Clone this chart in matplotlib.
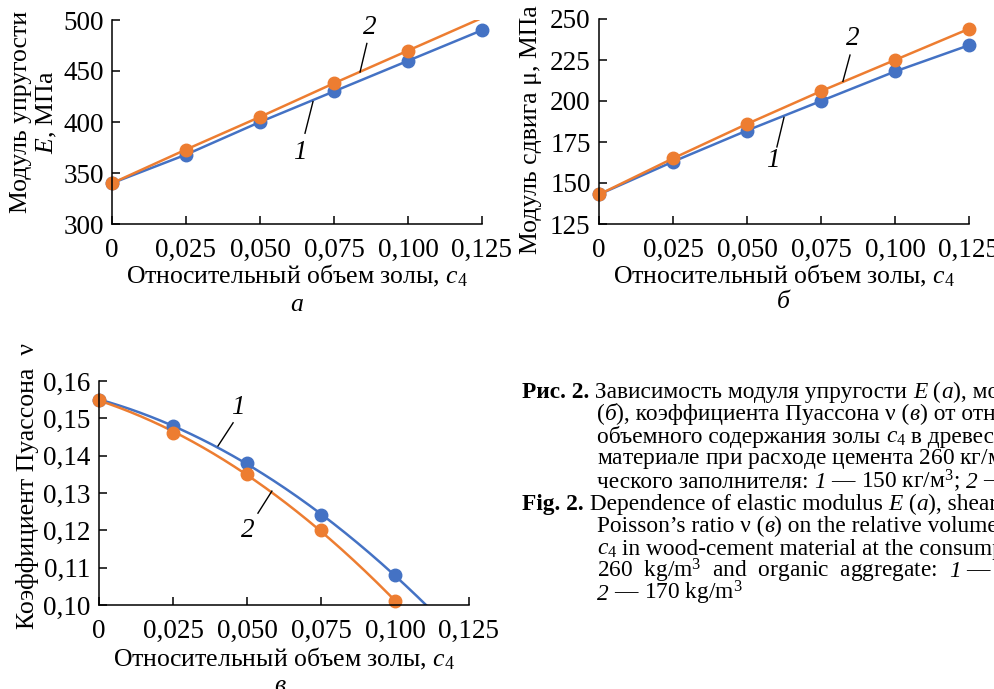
import numpy as np
import matplotlib
matplotlib.use("Agg")
import matplotlib.pyplot as plt

plt.rcParams['font.family'] = ['Liberation Serif', 'DejaVu Serif']
plt.rcParams['mathtext.fontset'] = 'custom'
plt.rcParams['mathtext.rm'] = 'Liberation Serif'
plt.rcParams['mathtext.it'] = 'Liberation Serif:italic'
plt.rcParams['mathtext.bf'] = 'Liberation Serif:bold'

# ash relative volume c4
c4 = [0, 0.025, 0.050, 0.075, 0.100, 0.125]
x_ticks = [0, 0.025, 0.050, 0.075, 0.100, 0.125]
x_tick_labels = ['0', '0,025', '0,050', '0,075', '0,100', '0,125']

# (а) elastic modulus E, MPa
E_1 = [340, 368, 400, 430, 460, 490]
E_2 = [340, 373, 405, 438, 470, 502]   # last point has no marker, runs off the top
E_ticks = [300, 350, 400, 450, 500]

# (б) shear modulus mu, MPa
mu_1 = [143, 163, 182, 200, 218, 234]
mu_2 = [143, 165, 186, 206, 225, 244]
mu_ticks = [125, 150, 175, 200, 225, 250]

# (в) Poisson ratio nu
c4_nu = [0, 0.025, 0.050, 0.075, 0.100]
nu_1 = [0.155, 0.148, 0.138, 0.124, 0.108]
nu_2 = [0.155, 0.146, 0.135, 0.120, 0.101]
nu_ticks = [0.10, 0.11, 0.12, 0.13, 0.14, 0.15, 0.16]
nu_tick_labels = ['0,10', '0,11', '0,12', '0,13', '0,14', '0,15', '0,16']

BLUE = '#4472C4'
ORANGE = '#ED7D31'
FS_TICK = 19.5
FS_LAB = 18.5
MS = 9

W, H = 995, 689
fig = plt.figure(figsize=(W / 100, H / 100), dpi=100)


def px_axes(left, top, right, bottom):
    return fig.add_axes([left / W, 1 - bottom / H, (right - left) / W, (bottom - top) / H])


def style(ax, xlab_y):
    for s in ('top', 'right'):
        ax.spines[s].set_visible(False)
    for s in ('left', 'bottom'):
        ax.spines[s].set_linewidth(1.1)
    ax.tick_params(direction='in', length=6, width=1.1, labelsize=FS_TICK)
    ax.tick_params(axis='x', pad=10)
    ax.tick_params(axis='y', pad=6)
    ax.set_xlim(0, 0.125)
    ax.set_xticks(x_ticks)
    ax.set_xticklabels(x_tick_labels)
    ax.set_xlabel('Относительный объем золы, $c_4$', fontsize=FS_LAB)
    ax.xaxis.set_label_coords(0.5, xlab_y)


def leader(ax, label, text_xy, p0, p1):
    ax.plot([p0[0], p1[0]], [p0[1], p1[1]], color='black', lw=1.0)
    ax.text(text_xy[0], text_xy[1], label, fontsize=FS_TICK, style='italic',
            ha='center', va='center')


# --- (а)
ax1 = px_axes(112, 20, 482, 224)
style(ax1, -0.19)
ax1.set_ylim(300, 500)
ax1.set_yticks(E_ticks)
ax1.plot(c4, E_1, color=BLUE, lw=1.8, marker='o', markersize=MS, clip_on=False)
ax1.plot(c4, E_2, color=ORANGE, lw=1.8)
ax1.plot(c4[:5], E_2[:5], color=ORANGE, marker='o', markersize=MS, lw=0,
         clip_on=False)
ax1.set_ylabel('Модуль упругости\n$E$, МПа', fontsize=FS_LAB, linespacing=1.15)
ax1.yaxis.set_label_coords(-0.143, 0.55)
leader(ax1, '2', (0.0872, 493), (0.0861, 477), (0.0838, 449))
leader(ax1, '1', (0.0635, 370), (0.0652, 389), (0.0679, 420))

# --- (б)
ax2 = px_axes(599, 19, 969, 224)
style(ax2, -0.19)
ax2.set_ylim(125, 250)
ax2.set_yticks(mu_ticks)
ax2.plot(c4, mu_1, color=BLUE, lw=1.8, marker='o', markersize=MS, clip_on=False)
ax2.plot(c4, mu_2, color=ORANGE, lw=1.8, marker='o', markersize=MS, clip_on=False)
ax2.set_ylabel('Модуль сдвига μ, МПа', fontsize=FS_LAB)
ax2.yaxis.set_label_coords(-0.154, 0.46)
leader(ax2, '2', (0.0858, 238), (0.0848, 228), (0.0824, 212))
leader(ax2, '1', (0.0588, 164), (0.0601, 172), (0.0625, 190))

# --- (в)
ax3 = px_axes(99, 381, 469, 605)
style(ax3, -0.183)
ax3.set_ylim(0.10, 0.16)
ax3.set_yticks(nu_ticks)
ax3.set_yticklabels(nu_tick_labels)
fit1 = np.polyfit(c4_nu, nu_1, 2)
fit2 = np.polyfit(c4_nu, nu_2, 2)
xs1 = np.linspace(0, 0.115, 200)
xs2 = np.linspace(0, 0.100, 200)
ax3.plot(xs1, np.polyval(fit1, xs1), color=BLUE, lw=1.8)
ax3.plot(xs2, np.polyval(fit2, xs2), color=ORANGE, lw=1.8)
ax3.plot(c4_nu, nu_1, color=BLUE, marker='o', markersize=MS, lw=0, clip_on=False)
ax3.plot(c4_nu, nu_2, color=ORANGE, marker='o', markersize=MS, lw=0, clip_on=False)
ax3.set_ylabel('Коэффициент Пуассона  ν', fontsize=FS_LAB)
ax3.yaxis.set_label_coords(-0.162, 0.53)
leader(ax3, '1', (0.047, 0.153), (0.0453, 0.1488), (0.0402, 0.1426))
leader(ax3, '2', (0.0503, 0.120), (0.0537, 0.1246), (0.0584, 0.1305))

# panel letters
fig.text(297 / W, 1 - 305 / H, 'а', fontsize=FS_LAB, style='italic', ha='center', va='center')
fig.text(783 / W, 1 - 302 / H, 'б', fontsize=FS_LAB, style='italic', ha='center', va='center')
fig.text(280 / W, 1 - 686 / H, 'в', fontsize=FS_LAB, style='italic', ha='center', va='center')

# caption, drawn run by run (normal / italic / bold)
CFS = 16.8
N = {}
I = {'style': 'italic'}
B = {'fontweight': 'bold'}
cap_lines = [
    (522, [('Рис. 2.', B), (' Зависимость модуля упругости ', N), ('E', I), (' (', N),
           ('а', I), ('), модуля сдвига μ', N)]),
    (597, [('(', N), ('б', I), ('), коэффициента Пуассона ν (', N), ('в', I),
           (') от относительного', N)]),
    (597, [('объемного содержания золы ', N), ('$c_4$', N), (' в древесно-цементном', N)]),
    (597, [('материале при расходе цемента 260 кг/м$^3$ и органи-', N)]),
    (597, [('ческого заполнителя: ', N), ('1', I), (' — 150 кг/м$^3$; ', N), ('2', I),
           (' — 170 кг/м$^3$', N)]),
    (522, [('Fig. 2.', B), (' Dependence of elastic modulus ', N), ('E', I), (' (', N),
           ('a', I), ('), shear modulus μ (', N), ('б', I), ('),', N)]),
    (597, [('Poisson’s ratio ν (', N), ('в', I), (') on the relative volume content of ash', N)]),
    (597, [('$c_4$', N), (' in wood-cement material at the consumption of cement', N)]),
    (597, [('260  kg/m$^3$  and  organic  aggregate:  ', N), ('1', I), (' — 150 kg/m$^3$;', N)]),
    (597, [('2', I), (' — 170 kg/m$^3$', N)]),
]

renderer = fig.canvas.get_renderer()


def run_width(s, kw):
    # bars around the run keep leading/trailing spaces in the measurement
    a = fig.text(0, 0, '|' + s + '|', fontsize=CFS, **kw)
    b = fig.text(0, 0, '||', fontsize=CFS, **kw)
    w = a.get_window_extent(renderer).width - b.get_window_extent(renderer).width
    a.remove()
    b.remove()
    return w


y0, dy = 398, 22.4
for i, (xl, runs) in enumerate(cap_lines):
    y = 1 - (y0 + i * dy) / H
    x = xl
    for s, kw in runs:
        fig.text(x / W, y, s, fontsize=CFS, va='baseline', **kw)
        x += run_width(s, kw)

fig.savefig('out.png', dpi=100)
